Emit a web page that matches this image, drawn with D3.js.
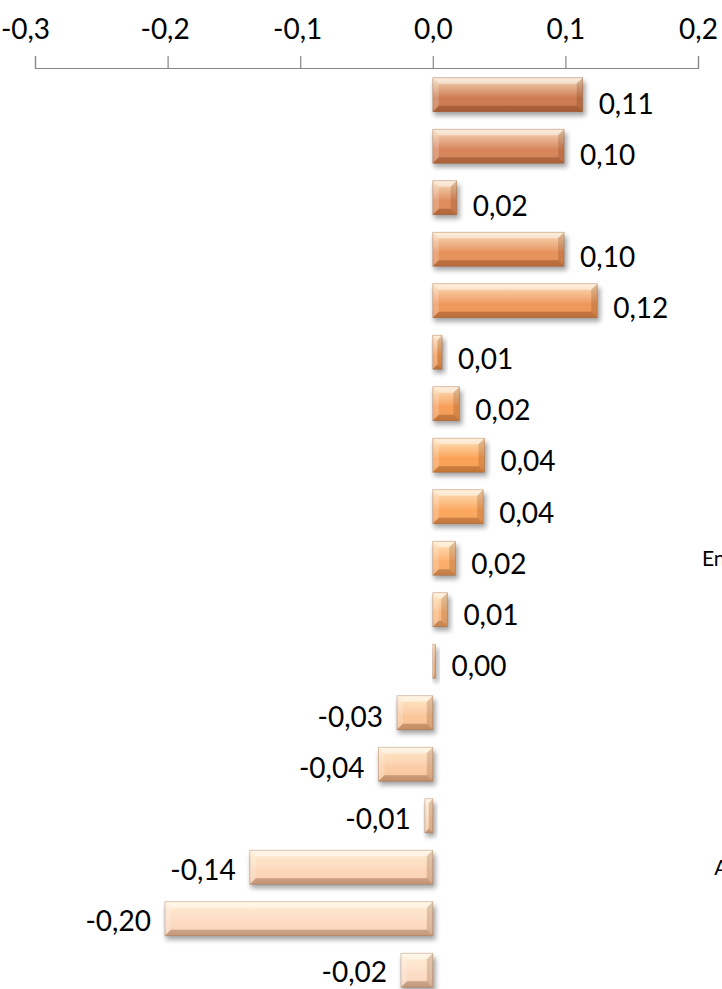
<!DOCTYPE html>
<html>
<head>
<meta charset="utf-8">
<script src="https://cdn.jsdelivr.net/npm/d3@7"></script>
<style>
  html, body { margin: 0; padding: 0; background: #ffffff; }
  svg { display: block; font-family: Lato, "Open Sans", sans-serif; }
</style>
</head>
<body>
<svg id="chart" width="722" height="989"></svg>
<script>
// ---- data ----
const categories = [
  "Transportes", "Habitação", "Saúde", "Educação", "Comunicação", "Vestuário",
  "Despesas pessoais", "Combustíveis", "Serviços", "Energia elétrica residencial",
  "Artigos de residência", "Higiene pessoal", "Bebidas", "Tarifas", "Seguros",
  "Alimentação no domicílio", "Alimentos", "Outros"
];
const values = [
  0.113, 0.099, 0.018, 0.099, 0.124, 0.007, 0.020, 0.039, 0.038, 0.017,
  0.011, 0.002, -0.027, -0.041, -0.006, -0.138, -0.202, -0.024
];
const tickValues = [-0.3, -0.2, -0.1, 0.0, 0.1, 0.2];
const barColors = [
  "#cc7a4e", "#d78458", "#df8b5a", "#e79159", "#ef9759", "#f39a57",
  "#f79d55", "#fba254", "#fca75d", "#fcae69", "#fcb77b", "#fbbf8b",
  "#fbc699", "#fbcca5", "#fcd1ae", "#fcd6b8", "#fddac0", "#fddcc4"
];

// ---- layout ----
const svg = d3.select("#chart");
const fmt = v => d3.format(".2f")(v).replace(".", ",").replace("−", "-");
const fmt1 = v => d3.format(".1f")(v).replace(".", ",").replace("−", "-");

const x = d3.scaleLinear().domain([-0.3, 0.2]).range([35, 698]);
const y = d3.scaleBand().domain(categories).range([69, 996])
  .paddingInner(0.34).paddingOuter(0.17);
const yLabel = d3.scalePoint().domain(categories).range([104, 972]);

const rows = categories.map((c, i) => ({ c, v: values[i], col: barColors[i] }));

// defs
const defs = svg.append("defs");
const face = defs.append("linearGradient").attr("id", "faceGrad")
  .attr("x1", 0).attr("y1", 0).attr("x2", 0).attr("y2", 1);
face.append("stop").attr("offset", "0%").attr("stop-color", "#fff8e0").attr("stop-opacity", 0.8);
face.append("stop").attr("offset", "30%").attr("stop-color", "#fff3d8").attr("stop-opacity", 0.4);
face.append("stop").attr("offset", "60%").attr("stop-color", "#ffffff").attr("stop-opacity", 0);
face.append("stop").attr("offset", "100%").attr("stop-color", "#7a3000").attr("stop-opacity", 0.12);

const shadow = defs.append("filter").attr("id", "shadow")
  .attr("x", "-20%").attr("y", "-40%").attr("width", "140%").attr("height", "180%");
shadow.append("feGaussianBlur").attr("stdDeviation", 2.5);

// axis
const axis = d3.axisTop(x).tickValues(tickValues).tickSize(12).tickSizeOuter(12)
  .tickPadding(17).tickFormat(fmt1);
const gAxis = svg.append("g").attr("transform", "translate(0,68)").call(axis);
gAxis.selectAll("path, line").attr("stroke", "#868686").attr("stroke-width", 1.2);
gAxis.selectAll("text").attr("fill", "#000").style("font-size", "28px")
  .style("font-family", "Lato, 'Open Sans', sans-serif");
gAxis.selectAll(".tick text").filter(d => d < -0.25).attr("dx", -10);
gAxis.selectAll(".tick text").filter(d => d < 0 && d > -0.25).attr("dx", -3);

// bars
const gBars = svg.append("g");
const bar = gBars.selectAll("g.bar").data(rows).join("g").attr("class", "bar");

bar.each(function(d) {
  const g = d3.select(this);
  const x0 = Math.min(x(0), x(d.v));
  const w = Math.max(Math.abs(x(d.v) - x(0)), 2);
  const y0 = y(d.c);
  const h = y.bandwidth();
  const b = Math.min(6, w / 2);
  g.append("rect").attr("x", x0 + 1).attr("y", y0 + 4).attr("width", w + 2).attr("height", h)
    .attr("fill", "#000").attr("opacity", 0.35).attr("filter", "url(#shadow)");
  g.append("rect").attr("x", x0).attr("y", y0).attr("width", w).attr("height", h).attr("fill", d.col);
  g.append("rect").attr("x", x0).attr("y", y0).attr("width", w).attr("height", h).attr("fill", "url(#faceGrad)");
  const pts = a => a.map(p => p.join(",")).join(" ");
  g.append("polygon").attr("points", pts([[x0, y0], [x0 + w, y0], [x0 + w - b, y0 + b], [x0 + b, y0 + b]]))
    .attr("fill", "#ffffff").attr("opacity", 0.45);
  g.append("polygon").attr("points", pts([[x0, y0], [x0 + b, y0 + b], [x0 + b, y0 + h - b], [x0, y0 + h]]))
    .attr("fill", "#ffffff").attr("opacity", 0.2);
  g.append("polygon").attr("points", pts([[x0 + w, y0], [x0 + w, y0 + h], [x0 + w - b, y0 + h - b], [x0 + w - b, y0 + b]]))
    .attr("fill", "#5a2000").attr("opacity", 0.18);
  g.append("polygon").attr("points", pts([[x0, y0 + h], [x0 + b, y0 + h - b], [x0 + w - b, y0 + h - b], [x0 + w, y0 + h]]))
    .attr("fill", "#5a2000").attr("opacity", 0.28);
  g.append("rect").attr("x", x0).attr("y", y0).attr("width", w).attr("height", h)
    .attr("fill", "none").attr("stroke", "#8a4a20").attr("stroke-opacity", 0.35).attr("stroke-width", 0.8);
});

// data labels
svg.append("g").selectAll("text").data(rows).join("text")
  .attr("x", d => d.v >= 0 ? x(d.v) + 16 : x(d.v) - 14)
  .attr("y", d => yLabel(d.c))
  .attr("dy", "0.36em")
  .attr("text-anchor", d => d.v >= 0 ? "start" : "end")
  .style("font-size", "28px")
  .attr("fill", "#000")
  .text(d => fmt(d.v));

// category labels (right side, mostly beyond the visible area)
const catLabels = svg.append("g").selectAll("text").data(rows).join("text")
  .attr("y", d => y(d.c) + y.bandwidth() / 2)
  .attr("dy", "0.36em")
  .attr("text-anchor", "end")
  .style("font-size", "21px")
  .attr("fill", "#000")
  .text(d => d.c);
const ref = catLabels.filter((d, i) => i === 9).node();
const rightEdge = 702 + (ref ? ref.getComputedTextLength() : 0);
catLabels.attr("x", rightEdge);
</script>
</body>
</html>
